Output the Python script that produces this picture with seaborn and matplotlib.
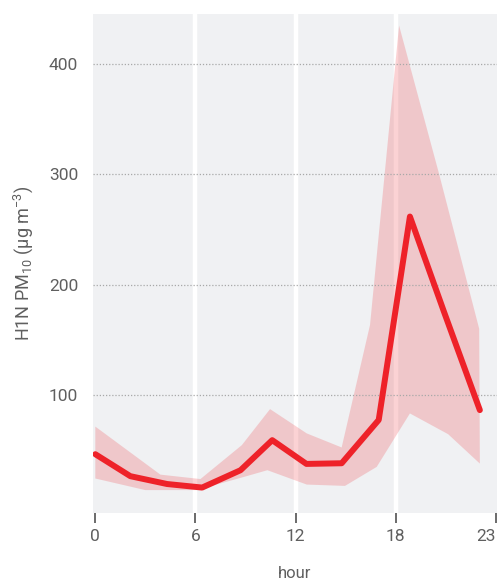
import matplotlib
matplotlib.use("Agg")
import matplotlib.pyplot as plt
import numpy as np
import pandas as pd
import seaborn as sns

# hourly PM10 profile (mean line) with min/max envelope
hour = [0, 2.1, 4.3, 6.4, 8.7, 10.6, 12.65, 14.76, 16.98, 18.85, 20.9, 23.04]
pm10 = [46.5, 26.6, 19.5, 16.3, 32.0, 59.2, 37.7, 38.3, 77.5, 261.6, 175.0, 86.4]

upper_hour = [0, 3.9, 6.3, 8.78, 10.47, 12.67, 14.76, 16.46, 18.2, 20.6, 23.0]
upper_pm10 = [71.5, 28.0, 24.0, 54.7, 87.3, 65.3, 52.6, 163.5, 434.5, 300.0, 160.0]

lower_hour = [0, 3.0, 6.3, 6.9, 8.78, 10.31, 12.67, 14.96, 16.86, 18.85, 21.14, 23.04]
lower_pm10 = [24.5, 14.0, 14.0, 17.5, 25.4, 32.0, 19.0, 17.8, 35.0, 83.4, 64.6, 38.0]

tick_pos = [0, 6, 12, 18, 24]
tick_labels = ["0", "6", "12", "18", "23"]
y_ticks = [100, 200, 300, 400]

sns.set_theme(style="white")
plt.rcParams["font.family"] = ["Roboto", "DejaVu Sans"]
plt.rcParams["mathtext.fontset"] = "custom"
plt.rcParams["mathtext.rm"] = "Roboto"
plt.rcParams["mathtext.it"] = "Roboto"

red = "#ee2229"
txt = "#5f5f5f"

fig = plt.figure(figsize=(5.03, 5.80), dpi=100)
ax = fig.add_axes([0.1855, 0.115, 0.802, 0.861])
ax.set_facecolor("#f0f1f3")

# envelope polygon
ax.fill(np.r_[upper_hour, lower_hour[::-1]], np.r_[upper_pm10, lower_pm10[::-1]],
        color=red, alpha=0.2, lw=0, zorder=2)

df = pd.DataFrame({"hour": hour, "pm10": pm10})
sns.lineplot(data=df, x="hour", y="pm10", color=red, lw=4.3, ax=ax, zorder=3)

ax.set_xlim(-0.12, 24.05)
ax.set_ylim(-7, 445)
ax.set_xticks(tick_pos)
ax.set_xticklabels(tick_labels)
ax.set_yticks(y_ticks)

for s in ax.spines.values():
    s.set_visible(False)

ax.grid(False)
for t in tick_pos[1:-1]:
    ax.axvline(t, color="white", lw=3.2, zorder=1)
for v in y_ticks:
    ax.axhline(v, color="#a8a8a8", lw=0.9, ls=(0, (1, 1.5)), zorder=2.5)

ax.tick_params(axis="x", which="both", bottom=True, length=7.5, width=1.3,
               color=txt, labelcolor=txt, labelsize=12.5, pad=4, direction="out")
ax.tick_params(axis="y", length=0, labelcolor=txt, labelsize=12.5, pad=11)
ax.get_xticklabels()[-1].set_horizontalalignment("right")
ax.get_xticklabels()[-1].set_x(24.25)

ax.set_xlabel("hour", color=txt, fontsize=12, labelpad=16)
ax.set_ylabel("H1N PM$_{10}$ (μg m$^{-3}$)", color=txt, fontsize=13, labelpad=10)

fig.savefig("out.png", dpi=100)
